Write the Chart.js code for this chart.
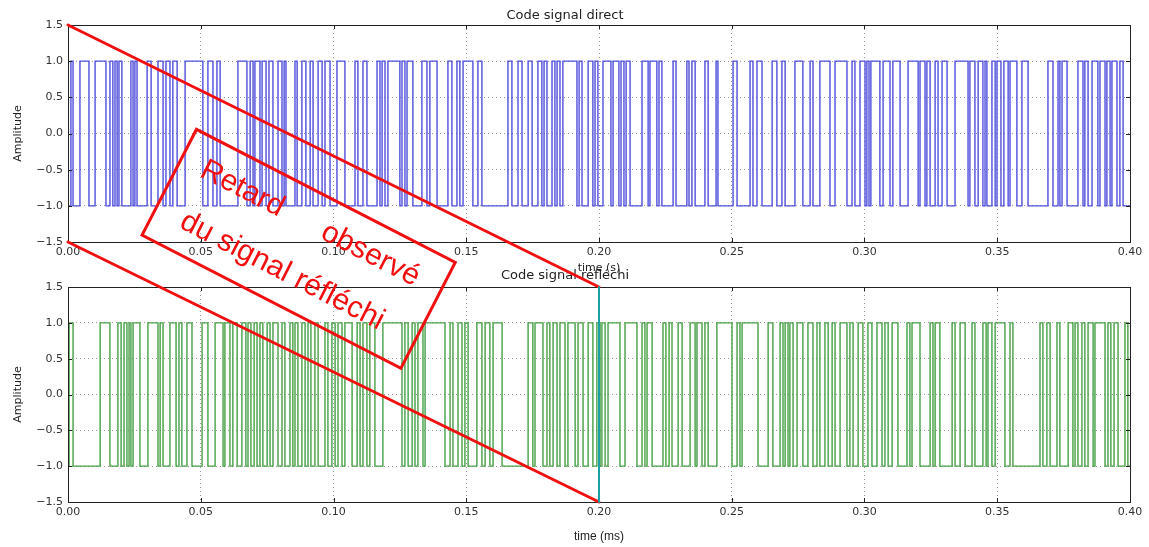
<!DOCTYPE html>
<html>
<head>
<meta charset="utf-8">
<script src="https://cdn.jsdelivr.net/npm/chart.js@4.4.0/dist/chart.umd.min.js"></script>
<style>
  html, body { margin: 0; padding: 0; background: #fff; }
  #wrap { position: relative; width: 1149px; height: 547px; overflow: hidden; }
  canvas { position: absolute; left: 0; }
  #topChart { top: 0; }
  #bottomChart { top: 260px; }
  #overlay { top: 0; pointer-events: none; }
</style>
</head>
<body>
<div id="wrap">
  <canvas id="topChart" width="1149" height="280"></canvas>
  <canvas id="bottomChart" width="1149" height="287"></canvas>
  <canvas id="overlay" width="1149" height="547"></canvas>
</div>
<script>
// ticks des axes
const xTicks = [0, 0.05, 0.10, 0.15, 0.20, 0.25, 0.30, 0.35, 0.40];
const yTicks = [-1.5, -1.0, -0.5, 0.0, 0.5, 1.0, 1.5];
const tMax = 0.40;
const startLevel = -1;
const delay = 0.20; // retard observé

// instants de commutation (le niveau bascule entre -1 et +1)
const directEdges = [
  0.0011, 0.0019, 0.0045, 0.0079, 0.0102, 0.0143, 0.0158, 0.0169, 0.0177, 0.0185,
  0.0192, 0.0203, 0.0237, 0.0245, 0.0252, 0.0260, 0.0298, 0.0313, 0.0339, 0.0358,
  0.0369, 0.0384, 0.0395, 0.0411, 0.0441, 0.0508, 0.0527, 0.0546, 0.0561, 0.0573,
  0.0640, 0.0674, 0.0686, 0.0697, 0.0704, 0.0723, 0.0731, 0.0746, 0.0757, 0.0772,
  0.0791, 0.0806, 0.0814, 0.0821, 0.0855, 0.0863, 0.0881, 0.0896, 0.0912, 0.0923,
  0.0942, 0.0957, 0.0968, 0.0987, 0.1013, 0.1043, 0.1081, 0.1092, 0.1111, 0.1126,
  0.1164, 0.1175, 0.1183, 0.1194, 0.1205, 0.1250, 0.1258, 0.1269, 0.1277, 0.1299,
  0.1333, 0.1352, 0.1363, 0.1390, 0.1431, 0.1446, 0.1465, 0.1476, 0.1488, 0.1525,
  0.1544, 0.1559, 0.1657, 0.1672, 0.1695, 0.1710, 0.1733, 0.1748, 0.1770, 0.1785,
  0.1793, 0.1804, 0.1823, 0.1834, 0.1842, 0.1853, 0.1864, 0.1917, 0.1925, 0.1936,
  0.1959, 0.1977, 0.1985, 0.1996, 0.2015, 0.2045, 0.2053, 0.2075, 0.2083, 0.2094,
  0.2102, 0.2117, 0.2162, 0.2185, 0.2192, 0.2218, 0.2226, 0.2237, 0.2279, 0.2290,
  0.2331, 0.2339, 0.2350, 0.2362, 0.2399, 0.2411, 0.2441, 0.2448, 0.2505, 0.2520,
  0.2569, 0.2580, 0.2595, 0.2614, 0.2652, 0.2670, 0.2689, 0.2701, 0.2738, 0.2768,
  0.2795, 0.2806, 0.2832, 0.2870, 0.2889, 0.2934, 0.2953, 0.2964, 0.2983, 0.3002,
  0.3009, 0.3017, 0.3024, 0.3058, 0.3070, 0.3096, 0.3107, 0.3134, 0.3164, 0.3202,
  0.3209, 0.3228, 0.3235, 0.3247, 0.3266, 0.3277, 0.3292, 0.3311, 0.3341, 0.3390,
  0.3397, 0.3416, 0.3428, 0.3446, 0.3454, 0.3461, 0.3480, 0.3492, 0.3499, 0.3514,
  0.3525, 0.3541, 0.3548, 0.3574, 0.3593, 0.3616, 0.3691, 0.3710, 0.3729, 0.3736,
  0.3744, 0.3763, 0.3804, 0.3823, 0.3830, 0.3842, 0.3857, 0.3879, 0.3887, 0.3906,
  0.3913, 0.3925, 0.3932, 0.3951, 0.3962, 0.3974
];

const reflectedEdges = [
  0.0004, 0.0019, 0.0121, 0.0158, 0.0188, 0.0200, 0.0211, 0.0222, 0.0230, 0.0237,
  0.0245, 0.0271, 0.0301, 0.0339, 0.0347, 0.0358, 0.0384, 0.0407, 0.0418, 0.0429,
  0.0448, 0.0467, 0.0505, 0.0527, 0.0554, 0.0584, 0.0591, 0.0610, 0.0621, 0.0637,
  0.0655, 0.0670, 0.0678, 0.0689, 0.0701, 0.0712, 0.0723, 0.0734, 0.0750, 0.0761,
  0.0772, 0.0791, 0.0806, 0.0817, 0.0836, 0.0847, 0.0855, 0.0866, 0.0881, 0.0893,
  0.0904, 0.0915, 0.0930, 0.0942, 0.0968, 0.0979, 0.0994, 0.1006, 0.1017, 0.1032,
  0.1043, 0.1070, 0.1089, 0.1100, 0.1111, 0.1126, 0.1137, 0.1156, 0.1186, 0.1258,
  0.1269, 0.1281, 0.1296, 0.1307, 0.1318, 0.1337, 0.1345, 0.1420, 0.1439, 0.1450,
  0.1469, 0.1484, 0.1495, 0.1507, 0.1540, 0.1559, 0.1571, 0.1589, 0.1601, 0.1635,
  0.1733, 0.1751, 0.1759, 0.1789, 0.1804, 0.1815, 0.1827, 0.1842, 0.1853, 0.1872,
  0.1883, 0.1910, 0.1921, 0.1940, 0.1959, 0.1977, 0.1992, 0.2004, 0.2011, 0.2023,
  0.2034, 0.2079, 0.2098, 0.2143, 0.2162, 0.2173, 0.2181, 0.2200, 0.2241, 0.2252,
  0.2264, 0.2275, 0.2298, 0.2313, 0.2343, 0.2362, 0.2369, 0.2388, 0.2399, 0.2411,
  0.2444, 0.2501, 0.2520, 0.2531, 0.2539, 0.2599, 0.2637, 0.2655, 0.2682, 0.2693,
  0.2701, 0.2712, 0.2719, 0.2731, 0.2746, 0.2768, 0.2787, 0.2806, 0.2821, 0.2832,
  0.2851, 0.2863, 0.2878, 0.2889, 0.2908, 0.2934, 0.2945, 0.2957, 0.2976, 0.2994,
  0.3013, 0.3028, 0.3047, 0.3066, 0.3077, 0.3089, 0.3104, 0.3126, 0.3160, 0.3171,
  0.3179, 0.3209, 0.3247, 0.3258, 0.3266, 0.3284, 0.3330, 0.3341, 0.3360, 0.3379,
  0.3405, 0.3416, 0.3446, 0.3458, 0.3465, 0.3480, 0.3492, 0.3529, 0.3548, 0.3559,
  0.3661, 0.3672, 0.3687, 0.3699, 0.3725, 0.3736, 0.3767, 0.3785, 0.3793, 0.3804,
  0.3819, 0.3830, 0.3842, 0.3861, 0.3868, 0.3906, 0.3917, 0.3928, 0.3940, 0.3955,
  0.3981, 0.3992
];

Chart.defaults.font.family = 'DejaVu Sans';
Chart.defaults.color = '#333';

// signal carré : on double chaque point de commutation
function buildSteps(edges, start) {
  const pts = [{ x: 0, y: start }];
  let level = start;
  edges.forEach(t => {
    pts.push({ x: t, y: level });
    level = -level;
    pts.push({ x: t, y: level });
  });
  pts.push({ x: tMax, y: level });
  return pts;
}

const fmt = (v, d) => v.toFixed(d).replace('-', '\u2212');

// cadre noir + petites graduations vers l'intérieur (style matplotlib)
const framePlugin = {
  id: 'frame',
  afterDraw(chart) {
    const { ctx, chartArea: a, scales } = chart;
    ctx.save();
    ctx.strokeStyle = '#222';
    ctx.lineWidth = 1;
    ctx.strokeRect(Math.round(a.left) + 0.5, Math.round(a.top) + 0.5,
      Math.round(a.right - a.left), Math.round(a.bottom - a.top));
    ctx.beginPath();
    xTicks.forEach(v => {
      const px = Math.round(scales.x.getPixelForValue(v)) + 0.5;
      ctx.moveTo(px, a.bottom); ctx.lineTo(px, a.bottom - 4);
      ctx.moveTo(px, a.top); ctx.lineTo(px, a.top + 4);
    });
    yTicks.forEach(v => {
      const py = Math.round(scales.y.getPixelForValue(v)) + 0.5;
      ctx.moveTo(a.left, py); ctx.lineTo(a.left + 4, py);
      ctx.moveTo(a.right, py); ctx.lineTo(a.right - 4, py);
    });
    ctx.stroke();
    ctx.restore();
  }
};

function makeChart(id, opts) {
  return new Chart(document.getElementById(id), {
    type: 'line',
    data: {
      datasets: [{
        data: buildSteps(opts.edges, startLevel),
        borderColor: opts.color,
        borderWidth: 1.4,
        pointRadius: 0,
        tension: 0,
        fill: false
      }]
    },
    options: {
      responsive: false,
      animation: false,
      events: [],
      layout: { padding: { left: 0, right: 19, top: 0, bottom: 0 } },
      plugins: {
        legend: { display: false },
        tooltip: { enabled: false },
        title: {
          display: true,
          text: opts.title,
          color: '#222',
          font: { size: 13, weight: 'normal' },
          padding: { top: opts.titleTop, bottom: opts.titleBottom }
        }
      },
      scales: {
        x: {
          type: 'linear',
          min: 0,
          max: tMax,
          afterBuildTicks: s => { s.ticks = xTicks.map(v => ({ value: v })); },
          afterFit: s => { s.height = opts.xHeight; s.paddingLeft = 0; s.paddingRight = 0; },
          ticks: { callback: v => fmt(v, 2), font: { size: 11 }, padding: 4, maxRotation: 0, autoSkip: false },
          grid: { color: '#999', drawTicks: false },
          border: { display: false, dash: [1, 3] },
          title: {
            display: true,
            text: opts.xLabel,
            font: opts.xLabelFont,
            color: '#222',
            padding: { top: 0, bottom: opts.xLabelBottom }
          }
        },
        y: {
          min: -1.5,
          max: 1.5,
          afterBuildTicks: s => { s.ticks = yTicks.map(v => ({ value: v })); },
          afterFit: s => { s.width = 68; s.paddingTop = 0; s.paddingBottom = 0; },
          ticks: { callback: v => fmt(v, 1), font: { size: 11 }, padding: 5 },
          grid: { color: '#999', drawTicks: false },
          border: { display: false, dash: [1, 3] },
          title: {
            display: true,
            text: 'Amplitude',
            font: { size: 11 },
            color: '#222',
            padding: { top: 12, bottom: 0 }
          }
        }
      }
    },
    plugins: [framePlugin]
  });
}

const topChart = makeChart('topChart', {
  edges: directEdges,
  color: '#4f4fdc',
  title: 'Code signal direct',
  titleTop: 8, titleBottom: 1.4,
  xHeight: 38,
  xLabel: 'time (s)',
  xLabelFont: { size: 11 },
  xLabelBottom: 5
});

const bottomChart = makeChart('bottomChart', {
  edges: reflectedEdges,
  color: '#46a046',
  title: 'Code signal réfléchi',
  titleTop: 8, titleBottom: 3.4,
  xHeight: 45,
  xLabel: 'time (ms)',
  xLabelFont: { family: 'Liberation Sans', size: 12 },
  xLabelBottom: 3
});

// annotations rouges par-dessus les deux graphiques
function drawAnnotations() {
  const ctx = document.getElementById('overlay').getContext('2d');
  const botOff = 260;
  const tx = topChart.scales.x, ty = topChart.scales.y;
  const bx = bottomChart.scales.x, by = bottomChart.scales.y;

  ctx.save();
  ctx.strokeStyle = '#f01010';
  ctx.lineWidth = 3;
  ctx.lineCap = 'round';
  ctx.beginPath();
  ctx.moveTo(tx.getPixelForValue(0), ty.getPixelForValue(1.5));
  ctx.lineTo(bx.getPixelForValue(delay), by.getPixelForValue(1.5) + botOff);
  ctx.moveTo(tx.getPixelForValue(0), ty.getPixelForValue(-1.5));
  ctx.lineTo(bx.getPixelForValue(delay), by.getPixelForValue(-1.5) + botOff);
  ctx.stroke();

  // trait vertical du retard
  ctx.strokeStyle = '#1a9fa6';
  ctx.lineWidth = 2;
  ctx.beginPath();
  ctx.moveTo(bx.getPixelForValue(delay), by.getPixelForValue(1.5) + botOff);
  ctx.lineTo(bx.getPixelForValue(delay), by.getPixelForValue(-1.5) + botOff);
  ctx.stroke();

  // cadre incliné avec le texte
  ctx.translate(298, 249);
  ctx.rotate(27.2 * Math.PI / 180);
  ctx.strokeStyle = '#f01010';
  ctx.lineWidth = 3;
  ctx.lineJoin = 'miter';
  ctx.strokeRect(-145, -60, 291, 119);
  ctx.fillStyle = '#f01010';
  ctx.font = '30px "Liberation Sans"';
  ctx.textAlign = 'center';
  ctx.textBaseline = 'middle';
  ctx.fillText('Retard', -77, -28);
  ctx.fillText('observé', 67, -28);
  ctx.fillText('du signal réfléchi', -4, 27);
  ctx.restore();
}
drawAnnotations();
</script>
</body>
</html>
